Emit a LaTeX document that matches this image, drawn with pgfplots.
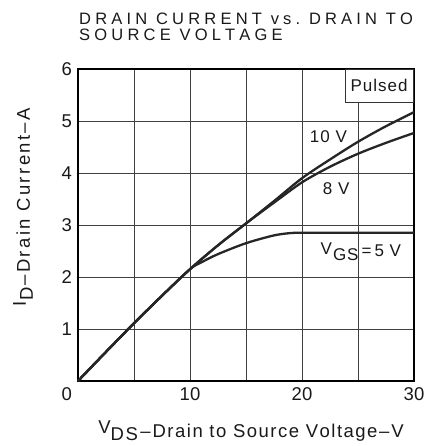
\documentclass[border=0pt]{standalone}
\usepackage{fontspec}
\setmainfont{Liberation Sans}
\usepackage{graphicx}
\usepackage{pgfplots}
\pgfplotsset{compat=1.18}
\newdimen\spamount
\makeatletter
\def\so@stop{\so@stop}
\def\spaceout#1#2{\spamount=#1\relax\spaceout@#2\so@stop}
\def\spaceout@{\futurelet\so@next\spaceout@@}
\def\spaceout@@{%
  \ifx\so@next\so@stop \let\so@do\@gobble
  \else\ifx\so@next\@sptoken \let\so@do\spaceout@sp
  \else \let\so@do\spaceout@char \fi\fi
  \so@do}
\def\spaceout@char#1{#1\kern\spamount\spaceout@}
\def\spaceout@sp{\ \afterassignment\spaceout@\let\so@next= }
\makeatother
\begin{document}
\begin{tikzpicture}
\path[use as bounding box] (0pt,0pt) rectangle (427pt,446pt);
\begin{axis}[
  at={(78pt,65pt)}, anchor=south west,
  scale only axis, width=336pt, height=312pt,
  xmin=0, xmax=30, ymin=0, ymax=6,
  xtick={0,10,20,30}, xticklabels={,10,20,30},
  minor xtick={5,15,25},
  ytick={1,2,3,4,5,6}, yticklabels={1,2,3,4,5,6},
  grid=both,
  major grid style={black!75, line width=0.8pt},
  minor grid style={black!75, line width=0.8pt},
  major tick length=0pt, minor tick length=0pt,
  axis line style={black, line width=1.3pt},
  tick label style={font=\fontsize{18.5}{19}\selectfont, text=black!90},
  xticklabel style={inner sep=0pt, yshift=-6pt},
  yticklabel style={inner sep=0pt, xshift=-6pt},
  clip=false,
]
\addplot[black!85, line width=2.3pt, smooth, tension=0.5] coordinates {
  (0,0) (2.5,0.56) (5,1.11) (7.5,1.64) (10,2.15) (12.5,2.61) (15,3.03)
  (17.5,3.46) (20,3.9) (22.5,4.26) (25,4.6) (27.5,4.9) (30,5.17)};
\addplot[black!85, line width=2.3pt, smooth, tension=0.5] coordinates {
  (0,0) (2.5,0.56) (5,1.11) (7.5,1.64) (10,2.15) (12.5,2.61) (15,3.03)
  (17.5,3.43) (20,3.82) (22.5,4.12) (25,4.37) (27.5,4.58) (30,4.77)};
\addplot[black!85, line width=2.3pt, smooth, tension=0.5] coordinates {
  (0,0) (2.5,0.56) (5,1.11) (7.5,1.64) (10,2.15) (11,2.28) (12.5,2.44)
  (15,2.65) (17.5,2.8) (19,2.845) (20,2.85) (25,2.85) (30,2.85)};
\node[font=\fontsize{17}{17}\selectfont, text=black!90] at (axis cs:22.4,4.70) {\spaceout{1pt}{10 V}};
\node[font=\fontsize{17}{17}\selectfont, text=black!90] at (axis cs:23.1,3.70) {\spaceout{1pt}{8 V}};
\node[font=\fontsize{17}{17}\selectfont, text=black!90, anchor=base] at (axis cs:25.3,2.40) {\raisebox{2pt}{V}\kern1pt\raisebox{-4pt}{\spaceout{1pt}{GS}}\kern2pt=\kern3pt\spaceout{1pt}{5 V}};
\node[draw=black!80, line width=0.8pt, fill=white, anchor=north east, minimum width=68pt, minimum height=33pt, inner sep=0pt, font=\fontsize{17}{17}\selectfont, text=black!90] at (rel axis cs:1,1) {\spaceout{1pt}{Pulsed}};
\node[anchor=north east, inner sep=0pt, font=\fontsize{18.5}{19}\selectfont, text=black!90] at (axis cs:0,0) [xshift=-6pt, yshift=-6pt] {0};
\end{axis}
\node[anchor=base west, inner sep=0pt, font=\fontsize{16.5}{17}\selectfont, text=black!90] at (79pt,421.7pt) {\spaceout{4.2pt}{DRAIN CURRENT vs. DRAIN TO}};
\node[anchor=base west, inner sep=0pt, font=\fontsize{16.5}{17}\selectfont, text=black!90] at (79pt,405pt) {\spaceout{4.2pt}{SOURCE VOLTAGE}};
\node[anchor=base, inner sep=0pt, font=\fontsize{18.5}{19}\selectfont, text=black!90] at (251pt,9pt) {\raisebox{4pt}{V}\raisebox{-3pt}{\spaceout{1.5pt}{DS}}\kern1pt\textendash\kern2pt\spaceout{1.5pt}{Drain to Source Voltage}\textendash\kern2pt V};
\node[anchor=center, inner sep=0pt, font=\fontsize{18.5}{19}\selectfont, text=black!90] at (23pt,238.5pt) {\rotatebox{90}{\raisebox{4pt}{I}\kern1pt\raisebox{-3pt}{D}\kern2pt\textendash\kern2pt\spaceout{2.4pt}{Drain Current}\textendash\kern2pt A}};
\end{tikzpicture}
\end{document}
